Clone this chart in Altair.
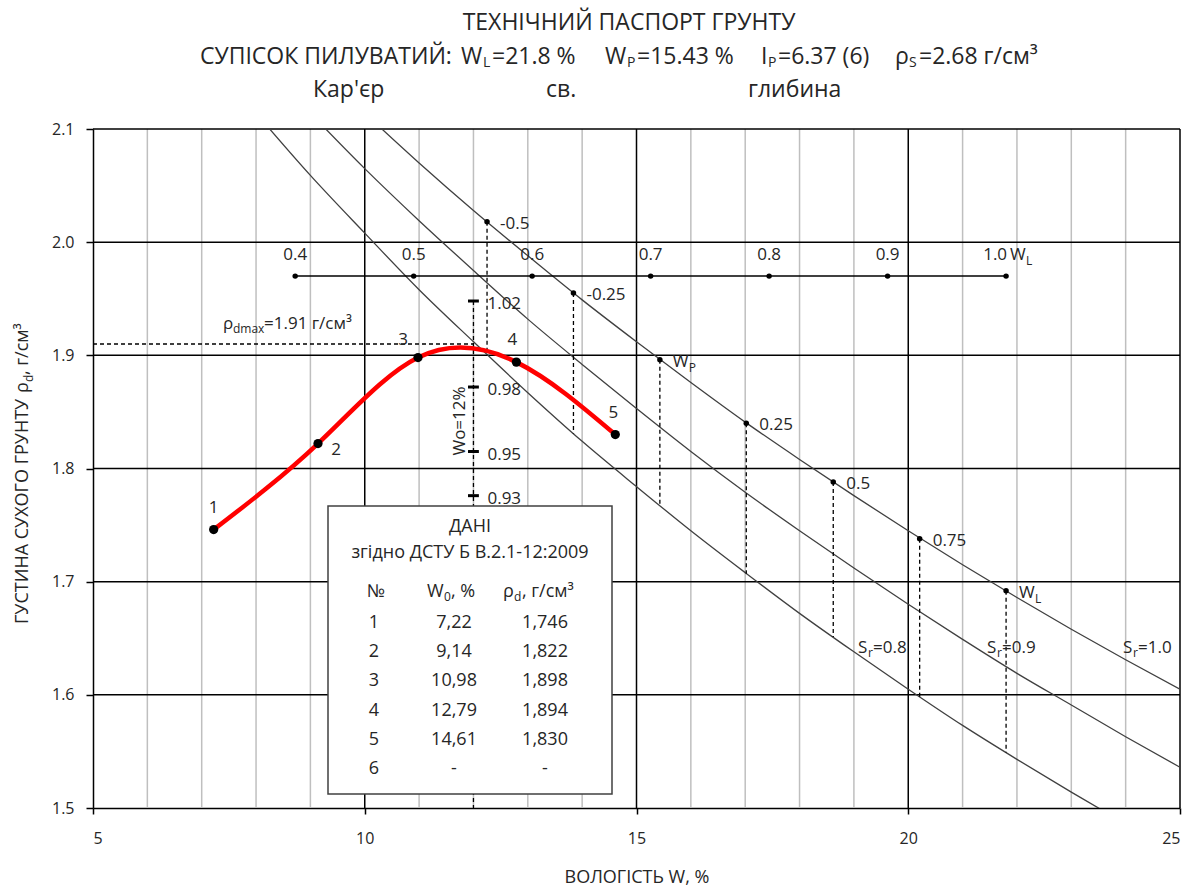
import altair as alt
import pandas as pd

FONT = "Open Sans"
INK = "#262626"
LINE = "#404040"

# ---------------- soil passport values ----------------
W_L, W_P, I_P, RHO_S = 21.8, 15.43, 6.37, 2.68
RHO_MAX, W_OPT = 1.91, 12.0

# compaction test results
TEST_NO = [1, 2, 3, 4, 5]
TEST_W = [7.22, 9.14, 10.98, 12.79, 14.61]
TEST_RHO = [1.746, 1.822, 1.898, 1.894, 1.830]

# saturation lines Sr = 0.8 / 0.9 / 1.0, one sample per 1 % of moisture
SAT_W = [8, 9, 10, 11, 12, 13, 14, 15, 16, 17, 18, 19, 20, 21, 22, 23, 24, 25]
SAT_100 = [2.207, 2.159, 2.114, 2.070, 2.028, 1.988, 1.949, 1.912, 1.876,
           1.841, 1.808, 1.776, 1.745, 1.715, 1.686, 1.658, 1.631, 1.605]
SAT_090 = [2.164, 2.114, 2.065, 2.019, 1.975, 1.932, 1.892, 1.853, 1.815,
           1.779, 1.745, 1.712, 1.680, 1.649, 1.619, 1.591, 1.563, 1.536]
SAT_080 = [2.114, 2.059, 2.008, 1.958, 1.912, 1.867, 1.824, 1.784, 1.745,
           1.708, 1.672, 1.638, 1.605, 1.573, 1.543, 1.514, 1.486, 1.459]

# consistency index marks on the Sr = 1.0 line
IL_MAIN = ["-0.5", "-0.25", "W", "0.25", "0.5", "0.75", "W"]
IL_SUB = ["", "", "P", "", "", "", "L"]
IL_W = [12.25, 13.84, 15.43, 17.02, 18.62, 20.21, 21.80]
IL_RHO_TOP = [2.018, 1.955, 1.896, 1.840, 1.788, 1.738, 1.692]
IL_RHO_BOTTOM = [1.900, 1.831, 1.767, 1.707, 1.651, 1.598, 1.549]

# moisture as a share of W_L
WL_SHARE = ["0.4", "0.5", "0.6", "0.7", "0.8", "0.9", "1.0"]
WL_SHARE_W = [8.72, 10.90, 13.08, 15.26, 17.44, 19.62, 21.80]
WL_SHARE_RHO = 1.97

# compaction coefficient scale at the optimum moisture
K_TEXT = ["1.02", "0.98", "0.95", "0.93"]
K_RHO = [1.948, 1.872, 1.815, 1.776]

# grid
X_TICKS = [5, 10, 15, 20, 25]
X_MAJOR = [10, 15, 20, 25]
X_MINOR = [6, 7, 8, 9, 11, 12, 13, 14, 16, 17, 18, 19, 21, 22, 23, 24]
Y_TICKS = [1.5, 1.6, 1.7, 1.8, 1.9, 2.0, 2.1]
Y_MAJOR = [1.6, 1.7, 1.8, 1.9, 2.0, 2.1]

# ---------------- layout ----------------
X0, Y0 = 93, 129          # plot origin on the page
PW, PH = 1087, 679        # plot area
FS = 17                   # in-plot label size

xs = alt.Scale(domain=[5, 25], nice=False, zero=False)
ys = alt.Scale(domain=[1.5, 2.1], nice=False, zero=False)

XAX = alt.Axis(values=X_TICKS, format="d", title=None, grid=False, tickSize=6,
               tickColor="black", tickWidth=1.5, domainColor="black", domainWidth=1.5,
               labelFont=FONT, labelFontSize=16, labelColor=INK, labelPadding=16)
YAX = alt.Axis(values=Y_TICKS, format=".1f", title=None, grid=False, tickSize=7,
               tickColor="black", tickWidth=1.5, domainColor="black", domainWidth=1.5,
               labelFont=FONT, labelFontSize=16, labelColor=INK, labelPadding=12)


def qx(f):
    return alt.X(f, type="quantitative", scale=xs, axis=XAX)


def qy(f):
    return alt.Y(f, type="quantitative", scale=ys, axis=YAX)


def note(text, px, py, size=FS, align="left", angle=0, color=INK, baseline="middle"):
    return alt.Chart(alt.Data(values=[{}])).mark_text(
        text=text, font=FONT, fontSize=size, align=align, baseline=baseline,
        angle=angle, color=color,
    ).encode(x=alt.value(px - X0), y=alt.value(py - Y0))


one = alt.Data(values=[{}])
layers = []

# ---- grid ----
layers.append(
    alt.Chart(pd.DataFrame({"v": X_MINOR})).mark_rule(color="#bfbfbf", strokeWidth=1.5)
    .encode(x=qx("v"))
)
layers.append(
    alt.Chart(pd.DataFrame({"v": X_MAJOR})).mark_rule(color="black", strokeWidth=1.5)
    .encode(x=qx("v"))
)
layers.append(
    alt.Chart(pd.DataFrame({"v": Y_MAJOR})).mark_rule(color="black", strokeWidth=1.5)
    .encode(y=qy("v"))
)

# ---- saturation lines ----
sat = pd.DataFrame({
    "w": SAT_W * 3,
    "rho": SAT_080 + SAT_090 + SAT_100,
    "sr": ["0.8"] * len(SAT_W) + ["0.9"] * len(SAT_W) + ["1.0"] * len(SAT_W),
})
layers.append(
    alt.Chart(sat).mark_line(color=LINE, strokeWidth=1.3, clip=True, interpolate="monotone")
    .encode(x=qx("w"), y=qy("rho"), detail="sr:N")
)

# ---- dashed drop lines from the Sr = 1.0 marks ----
il = pd.DataFrame({"w": IL_W, "top": IL_RHO_TOP, "bot": IL_RHO_BOTTOM,
                   "main": IL_MAIN, "sub": IL_SUB})
layers.append(
    alt.Chart(il).mark_rule(color="black", strokeWidth=1.3, strokeDash=[4, 3])
    .encode(x=qx("w"), y=qy("top"), y2="bot")
)

# ---- optimum moisture and maximum density guides ----
opt = pd.DataFrame({"w0": [5.0], "w": [W_OPT], "rho": [RHO_MAX],
                    "top": [K_RHO[0]], "bot": [1.5]})
layers.append(
    alt.Chart(opt).mark_rule(color="black", strokeWidth=1.3, strokeDash=[4, 3])
    .encode(x=qx("w0"), x2="w", y=qy("rho"))
)
layers.append(
    alt.Chart(opt).mark_rule(color="black", strokeWidth=1.3, strokeDash=[4, 3])
    .encode(x=qx("w"), y=qy("top"), y2="bot")
)

# ---- data table panel ----
TS = 18
layers.append(
    alt.Chart(one).mark_rect(fill="white", stroke=LINE, strokeWidth=1.5)
    .encode(x=alt.value(328 - X0), x2=alt.value(612 - X0),
            y=alt.value(506 - Y0), y2=alt.value(794 - Y0))
)
layers.append(note("ДАНІ", 470, 527, size=TS, align="center"))
layers.append(note("згідно ДСТУ Б В.2.1-12:2009", 470, 553, size=TS, align="center"))
layers.append(note("№", 376, 592, size=TS, align="center"))
layers.append(note("W", 427, 592, size=TS))
layers.append(note("0", 444, 597, size=12))
layers.append(note(", %", 451, 592, size=TS))
layers.append(note("ρ", 503, 592, size=TS))
layers.append(note("d", 514, 597, size=12))
layers.append(note(", г/см³", 522, 592, size=TS))

tab = pd.DataFrame({
    "no": TEST_NO + [6],
    "w": TEST_W + [None],
    "rho": TEST_RHO + [None],
})
tab_base = alt.Chart(tab).transform_calculate(
    py=f"{623 - Y0} + (datum.no - 1) * 29.2",
    wt="datum.w == null ? '-' : replace(format(datum.w, '.2f'), '.', ',')",
    rt="datum.rho == null ? '-' : replace(format(datum.rho, '.3f'), '.', ',')",
)
for field, px in (("no", 374), ("wt", 454), ("rt", 545)):
    layers.append(
        tab_base.mark_text(font=FONT, fontSize=TS, color=INK, align="center", baseline="middle")
        .encode(x=alt.value(px - X0), y=alt.Y("py:Q", scale=None, axis=None), text=f"{field}:N")
    )

# ---- moisture as a share of W_L ----
share = pd.DataFrame({"w": WL_SHARE_W, "rho": [WL_SHARE_RHO] * len(WL_SHARE_W),
                      "t": WL_SHARE})
layers.append(
    alt.Chart(share).mark_line(color="black", strokeWidth=1.5)
    .encode(x=qx("w"), y=qy("rho"))
)
layers.append(
    alt.Chart(share).mark_circle(color="black", size=30, opacity=1)
    .encode(x=qx("w"), y=qy("rho"))
)
layers.append(
    alt.Chart(share).transform_filter("datum.t != '1.0'")
    .mark_text(font=FONT, fontSize=FS, color=INK, align="center", dy=-21)
    .encode(x=qx("w"), y=qy("rho"), text="t:N")
)
layers.append(
    alt.Chart(share).transform_filter("datum.t == '1.0'")
    .mark_text(font=FONT, fontSize=FS, color=INK, align="right", dx=1, dy=-21)
    .encode(x=qx("w"), y=qy("rho"), text="t:N")
)
layers.append(
    alt.Chart(share).transform_filter("datum.t == '1.0'")
    .mark_text(font=FONT, fontSize=FS, color=INK, align="left", dx=4, dy=-21, text="W")
    .encode(x=qx("w"), y=qy("rho"))
)
layers.append(
    alt.Chart(share).transform_filter("datum.t == '1.0'")
    .mark_text(font=FONT, fontSize=12, color=INK, align="left", dx=20, dy=-15, text="L")
    .encode(x=qx("w"), y=qy("rho"))
)

# ---- consistency index marks ----
layers.append(
    alt.Chart(il).mark_circle(color="black", size=30, opacity=1)
    .encode(x=qx("w"), y=qy("top"))
)
layers.append(
    alt.Chart(il).mark_text(font=FONT, fontSize=FS, color=INK, align="left", dx=13, dy=2)
    .encode(x=qx("w"), y=qy("top"), text="main:N")
)
layers.append(
    alt.Chart(il).transform_filter("datum.sub != ''")
    .mark_text(font=FONT, fontSize=12, color=INK, align="left", dx=29, dy=8)
    .encode(x=qx("w"), y=qy("top"), text="sub:N")
)

# ---- compaction coefficient scale ----
kdf = pd.DataFrame({"k": K_TEXT, "rho": K_RHO, "a": [W_OPT - 0.1] * 4, "b": [W_OPT + 0.1] * 4,
                    "w": [W_OPT] * 4})
layers.append(
    alt.Chart(kdf).mark_rule(color="black", strokeWidth=3)
    .encode(x=qx("a"), x2="b", y=qy("rho"))
)
layers.append(
    alt.Chart(kdf).mark_text(font=FONT, fontSize=FS, color=INK, align="left", dx=14, dy=3)
    .encode(x=qx("w"), y=qy("rho"), text="k:N")
)

# ---- compaction curve ----
test = pd.DataFrame({"no": TEST_NO, "w": TEST_W, "rho": TEST_RHO})
layers.append(
    alt.Chart(test).mark_line(color="#ff0000", strokeWidth=4.5, interpolate="natural")
    .encode(x=qx("w"), y=qy("rho"))
)
layers.append(
    alt.Chart(test).mark_circle(color="black", size=85, opacity=1)
    .encode(x=qx("w"), y=qy("rho"))
)
POINT_LABEL_OFFSET = {1: (0, -22), 2: (18, 6), 3: (-15, -18), 4: (-4, -22), 5: (-2, -22)}
for n, (ddx, ddy) in POINT_LABEL_OFFSET.items():
    layers.append(
        alt.Chart(test).transform_filter(f"datum.no == {n}")
        .mark_text(font=FONT, fontSize=FS, color=INK, align="center", dx=ddx, dy=ddy)
        .encode(x=qx("w"), y=qy("rho"), text="no:N")
    )

# ---- in-plot annotations ----
layers.append(note("ρ", 223, 324))
layers.append(note("dmax", 233, 329, size=12))
layers.append(note("=1.91 г/см³", 264, 324))
layers.append(note("Wo=12%", 460, 421, align="center", angle=270))
for px, val in ((858, "0.8"), (987, "0.9"), (1123, "1.0")):
    layers.append(note("S", px, 648))
    layers.append(note("r", px + 10, 653, size=12))
    layers.append(note("=" + val, px + 15, 648))

# ---- titles ----
TT = 23
layers.append(note("ТЕХНІЧНИЙ ПАСПОРТ ГРУНТУ", 629, 23, size=TT, align="center"))
for text, px, sub in (
    ("СУПІСОК ПИЛУВАТИЙ:", 200, False), ("W", 461, False), ("L", 483, True),
    ("=21.8 %", 492, False),
    ("W", 605, False), ("P", 627, True), ("=15.43 %", 637, False),
    ("I", 761, False), ("P", 768, True), ("=6.37 (6)", 778, False),
    ("ρ", 895, False), ("S", 909, True), ("=2.68 г/см³", 919, False),
):
    layers.append(note(text, px, 63 if sub else 57, size=14 if sub else TT))
layers.append(note("Кар'єр", 313, 90, size=TT))
layers.append(note("св.", 546, 90, size=TT))
layers.append(note("глибина", 748, 90, size=TT))

# axis titles
layers.append(note("ВОЛОГІСТЬ W, %", 637, 878, size=18, align="center"))
layers.append(note("ГУСТИНА СУХОГО ГРУНТУ", 23, 624, size=18, angle=270))
layers.append(note("ρ", 23, 393, size=18, angle=270))
layers.append(note("d", 29, 382, size=12, angle=270))
layers.append(note(", г/см³", 23, 375, size=18, angle=270))

chart = alt.layer(*layers).properties(
    width=PW, height=PH,
    autosize=alt.AutoSizeParams(type="none"),
    padding={"left": X0, "top": Y0, "right": 1201 - X0 - PW, "bottom": 889 - Y0 - PH},
    background="white",
).configure_view(stroke=None)

chart.save("out.html", embed_options={"renderer": "svg", "actions": False})
